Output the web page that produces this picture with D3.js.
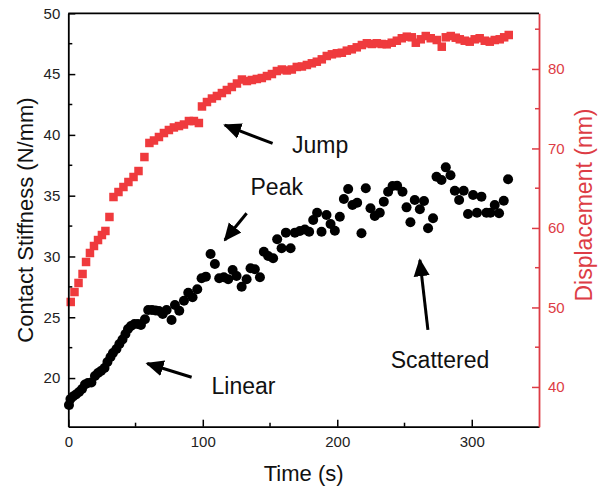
<!DOCTYPE html>
<html><head><meta charset="utf-8">
<script src="https://cdn.jsdelivr.net/npm/d3@7"></script>
<style>
html,body{margin:0;padding:0;background:#fff;}
svg{display:block;font-family:"Liberation Sans",Arial,sans-serif;}
</style></head>
<body>
<svg id="chart" width="605" height="493"></svg>
<script>
// Contact stiffness (left axis, black circles)
const stiffTime = [0.5,1.6,3.5,5.7,8.0,10.2,12.4,14.6,17.2,19.8,22.1,24.3,26.9,29.1,31.4,33.2,35.8,38.0,40.3,42.5,44.4,46.6,49.2,51.8,54.0,57.0,59.4,62.2,64.8,67.4,70.2,73.1,76.8,79.3,82.5,86.0,89.2,92.4,95.9,99.1,102.3,105.8,109.0,112.2,115.7,118.9,122.2,125.1,128.9,132.6,135.5,138.7,142.5,145.4,148.6,152.3,155.3,158.6,161.8,165.3,168.5,172.2,175.9,179.1,182.1,185.0,188.3,192.0,195.0,198.2,201.9,204.9,208.1,211.3,214.8,218.0,221.2,224.7,227.9,231.6,234.6,237.8,241.1,244.5,248.5,251.5,254.4,257.6,261.4,264.5,267.5,271.2,273.8,277.5,280.7,284.2,287.4,290.6,294.0,297.2,301.0,303.9,307.2,310.9,313.9,317.1,320.3,323.8,327.0];
const stiffValue = [17.79,18.28,18.48,18.65,18.85,19.10,19.47,19.59,19.64,20.17,20.42,20.58,20.83,21.32,21.73,22.06,22.39,22.80,23.17,23.62,24.04,24.28,24.45,24.45,24.36,24.83,25.60,25.60,25.56,25.52,25.27,25.60,24.78,26.01,25.54,26.36,27.02,26.64,27.30,28.21,28.34,30.20,29.38,28.21,28.29,28.12,28.89,28.39,27.51,28.12,29.03,28.95,28.29,30.39,30.04,29.85,31.41,30.67,31.96,30.67,31.96,32.10,32.22,32.04,33.00,33.60,32.04,33.41,32.67,32.12,33.27,34.73,35.55,34.23,34.42,31.91,35.61,33.96,33.33,33.60,34.51,35.33,35.80,35.82,35.33,34.04,32.81,34.65,33.88,34.56,32.32,33.14,36.56,36.29,37.33,36.68,35.41,34.65,35.41,33.49,35.06,33.60,34.92,33.60,33.60,34.23,33.55,34.59,36.35];

// Displacement (right axis, red squares)
const dispTime = [1.8,4.6,7.6,10.6,13.2,16.1,19.1,22.1,25.0,27.6,30.6,33.6,37.3,41.0,44.7,48.5,52.2,56.6,60.3,63.7,67.4,71.1,74.8,78.5,82.3,86.0,89.7,93.4,97.1,99.4,103.1,106.8,110.5,114.2,117.9,121.6,125.4,129.1,132.8,136.5,140.2,143.9,147.7,151.4,155.1,158.8,162.5,166.2,169.9,173.7,177.4,181.1,184.8,188.5,192.2,196.0,199.7,203.4,207.1,210.8,214.5,218.3,222.0,225.7,229.4,233.1,236.8,240.5,244.3,248.0,251.7,255.4,258.4,262.1,265.8,269.5,274.0,277.7,280.7,284.4,288.1,291.1,294.8,298.5,302.2,305.9,309.7,313.4,317.1,320.8,324.1,327.5];
const dispValue = [50.69,51.94,53.08,54.21,55.72,56.85,57.73,58.48,59.11,59.62,61.38,63.89,64.52,65.15,65.78,66.41,67.16,68.92,70.69,71.00,71.44,71.94,72.32,72.64,72.82,73.01,73.45,73.45,73.20,75.28,75.84,76.28,76.60,76.97,77.35,77.73,78.17,78.67,78.48,78.61,78.74,78.86,79.11,79.36,79.74,79.93,79.81,79.93,80.25,80.31,80.50,80.71,80.91,81.21,81.63,81.84,81.97,82.04,82.30,82.47,82.72,83.01,83.23,83.14,83.23,83.14,83.10,83.30,83.55,83.86,84.06,83.98,83.30,83.73,84.14,83.86,83.64,82.80,83.98,84.14,83.93,83.73,83.55,83.43,83.73,83.86,83.55,83.43,83.64,83.73,83.98,84.27];

// Axis ticks
const xTicks = [0,100,200,300];
const xMinor = [50,150,250];
const leftTicks = [20,25,30,35,40,45,50];
const leftMinor = [17.5,22.5,27.5,32.5,37.5,42.5,47.5];
const rightTicks = [40,50,60,70,80];
const rightMinor = [45,55,65,75,85];

// Annotations (positions in data units: time, stiffness)
const notes = [
  {text:"Jump", tx:166.3, ty:38.5, x1:151.9, y1:39.3, x2:116.4, y2:40.8},
  {text:"Peak", tx:135.5, ty:35.05, x1:132.6, y1:33.55, x2:116.4, y2:31.35},
  {text:"Linear", tx:106.5, ty:18.7, x1:91.7, y1:20.07, x2:58.7, y2:21.2},
  {text:"Scattered", tx:239.8, ty:20.8, x1:267.4, y1:23.96, x2:261.4, y2:29.71}
];

const red = "#ef3a3d";
const axisRed = "#dd3c45";

const svg = d3.select("#chart");
const L = 68.3, R = 539, T = 13.3, B = 426.7;
const x = d3.scaleLinear().domain([0,350]).range([L,R]);
const yL = d3.scaleLinear().domain([16,50]).range([B,T]);
const yR = d3.scaleLinear().domain([35,87]).range([B,T]);

const defs = svg.append("defs");
defs.append("marker").attr("id","ah").attr("viewBox","0 0 10 10").attr("refX",9).attr("refY",5)
  .attr("markerWidth",6).attr("markerHeight",6).attr("markerUnits","strokeWidth").attr("orient","auto")
  .append("path").attr("d","M0,0.5 L10,5 L0,9.5 Z").attr("fill","#000");

// red squares
const sq = 8.5;
svg.append("g").selectAll("rect").data(dispTime).join("rect")
  .attr("x",(d,i)=>x(d)-sq/2).attr("y",(d,i)=>yR(dispValue[i])-sq/2)
  .attr("width",sq).attr("height",sq).attr("fill",red);

// black circles
svg.append("g").selectAll("circle").data(stiffTime).join("circle")
  .attr("cx",d=>x(d)).attr("cy",(d,i)=>yL(stiffValue[i])).attr("r",5).attr("fill","#000");

// Axes
const fs = 15;
const gx = svg.append("g").attr("transform",`translate(0,${B})`)
  .call(d3.axisBottom(x).tickValues(xTicks).tickSizeInner(-7).tickSizeOuter(0).tickPadding(10).tickFormat(d3.format("d")));
gx.append("g").selectAll("line").data(xMinor).join("line")
  .attr("x1",d=>x(d)).attr("x2",d=>x(d)).attr("y1",0).attr("y2",-4).attr("stroke","#000").attr("stroke-width",1.5);

const gl = svg.append("g").attr("transform",`translate(${L},0)`)
  .call(d3.axisLeft(yL).tickValues(leftTicks).tickSizeInner(-7).tickSizeOuter(0).tickPadding(8).tickFormat(d3.format("d")));
gl.append("g").selectAll("line").data(leftMinor).join("line")
  .attr("y1",d=>yL(d)).attr("y2",d=>yL(d)).attr("x1",0).attr("x2",4).attr("stroke","#000").attr("stroke-width",1.5);

const gr = svg.append("g").attr("transform",`translate(${R},0)`)
  .call(d3.axisRight(yR).tickValues(rightTicks).tickSizeInner(-7).tickSizeOuter(0).tickPadding(9).tickFormat(d3.format("d")));
gr.append("g").selectAll("line").data(rightMinor).join("line")
  .attr("y1",d=>yR(d)).attr("y2",d=>yR(d)).attr("x1",0).attr("x2",-4).attr("stroke",axisRed).attr("stroke-width",1.5);

[gx,gl].forEach(g=>{
  g.selectAll(".domain").attr("stroke","#000").attr("stroke-width",1.8);
  g.selectAll(".tick line").attr("stroke","#000").attr("stroke-width",1.5);
  g.selectAll("text").attr("font-size",fs).attr("fill","#222").attr("font-family","Liberation Sans, Arial, sans-serif");
});
gr.selectAll(".domain").attr("stroke",axisRed).attr("stroke-width",1.8);
gr.selectAll(".tick line").attr("stroke",axisRed).attr("stroke-width",1.5);
gr.selectAll("text").attr("font-size",fs).attr("fill",axisRed).attr("font-family","Liberation Sans, Arial, sans-serif");

// top border
svg.append("line").attr("x1",L).attr("x2",R).attr("y1",T).attr("y2",T).attr("stroke","#000").attr("stroke-width",1.8);

// axis titles
svg.append("text").attr("x",(L+R)/2).attr("y",481).attr("text-anchor","middle")
  .attr("font-size",22).attr("fill","#111").text("Time (s)");
svg.append("text").attr("transform",`translate(33,${(T+B)/2}) rotate(-90)`).attr("text-anchor","middle")
  .attr("font-size",22).attr("fill","#111").text("Contact Stiffness (N/mm)");
svg.append("text").attr("transform",`translate(592,205) rotate(-90)`).attr("text-anchor","middle")
  .attr("font-size",23).attr("fill",axisRed).text("Displacement (nm)");

// annotations
const ga = svg.append("g");
notes.forEach(n=>{
  ga.append("line").attr("x1",x(n.x1)).attr("y1",yL(n.y1)).attr("x2",x(n.x2)).attr("y2",yL(n.y2))
    .attr("stroke","#000").attr("stroke-width",3).attr("marker-end","url(#ah)");
  ga.append("text").attr("x",x(n.tx)).attr("y",yL(n.ty)).attr("font-size",23).attr("fill","#111").text(n.text);
});
</script>
</body></html>
